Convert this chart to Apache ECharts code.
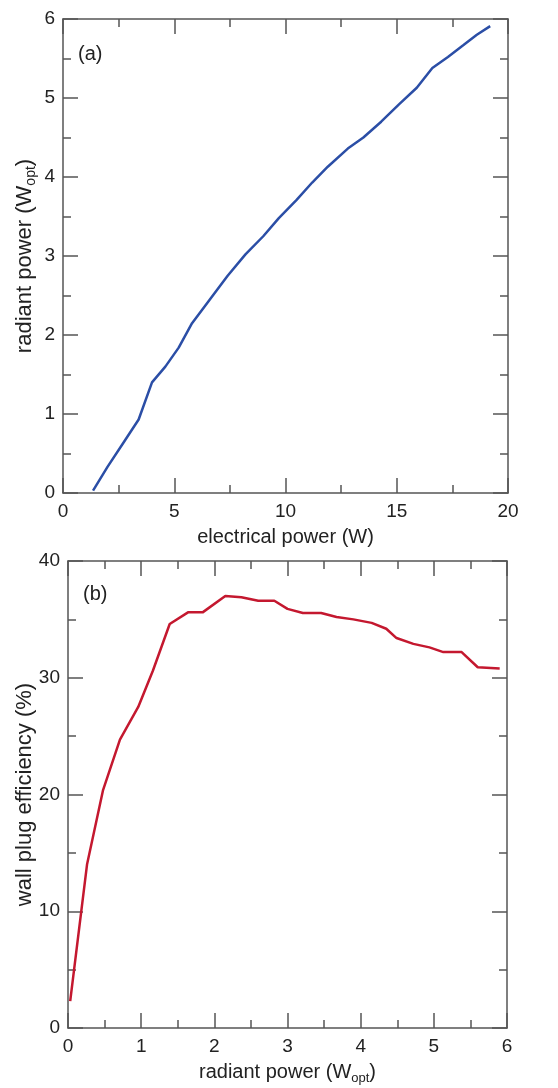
<!DOCTYPE html>
<html>
<head>
<meta charset="utf-8">
<script src="https://cdn.jsdelivr.net/npm/echarts@6/dist/echarts.min.js"></script>
<style>html,body{margin:0;padding:0;background:#fff;}#c{width:558px;height:1088px;}</style>
</head>
<body>
<div id="c"></div>
<script>
// Panel (a): electrical power (W) vs radiant power (W_opt)
var elecPower = [1.35, 2.0, 2.7, 3.4, 4.0, 4.6, 5.2, 5.8, 6.6, 7.4, 8.2, 9.0, 9.7, 10.5, 11.2, 11.9, 12.8, 13.5, 14.3, 15.1, 15.9, 16.6, 17.3, 18.0, 18.6, 19.2];
var radPowerA = [0.03, 0.33, 0.63, 0.93, 1.40, 1.60, 1.84, 2.15, 2.45, 2.75, 3.02, 3.25, 3.48, 3.71, 3.93, 4.13, 4.36, 4.50, 4.70, 4.92, 5.13, 5.38, 5.52, 5.67, 5.80, 5.91];
// Panel (b): radiant power (W_opt) vs wall plug efficiency (%)
var radPowerB = [0.03, 0.26, 0.48, 0.71, 0.96, 1.16, 1.39, 1.64, 1.84, 2.15, 2.37, 2.60, 2.82, 3.00, 3.21, 3.46, 3.67, 3.90, 4.15, 4.35, 4.49, 4.72, 4.94, 5.13, 5.38, 5.60, 5.90];
var wallPlug = [2.3, 14.0, 20.4, 24.7, 27.5, 30.6, 34.6, 35.6, 35.6, 37.0, 36.9, 36.6, 36.6, 35.9, 35.55, 35.55, 35.2, 35.0, 34.7, 34.2, 33.4, 32.9, 32.6, 32.2, 32.2, 30.9, 30.8];
var panelLabels = ['(a)', '(b)'];

function zip(a, b) { return a.map(function (v, i) { return [v, b[i]]; }); }

var FONT = '"Liberation Sans", Arial, sans-serif';
var AX = '#555';
var TXT = '#222';

function axis(opts) {
  var fs = opts.nameSize || 20;
  return {
    type: 'value',
    min: opts.min, max: opts.max, interval: opts.interval,
    gridIndex: opts.grid,
    position: opts.position,
    axisLine: { show: true, onZero: false, lineStyle: { color: AX, width: 1.5 } },
    axisTick: { show: true, inside: true, length: 15, lineStyle: { color: AX, width: 1.5 } },
    minorTick: { show: true, splitNumber: 2, length: 8, lineStyle: { color: AX, width: 1.5 } },
    splitLine: { show: false },
    axisLabel: { show: !!opts.labels, color: TXT, fontSize: 19, fontFamily: FONT, margin: opts.labelMargin || 8 },
    name: opts.name || '',
    nameLocation: 'middle',
    nameGap: opts.nameGap || 30,
    nameMoveOverlap: false,
    nameTextStyle: {
      color: TXT, fontSize: fs, fontFamily: FONT,
      rich: {
        a: { fontSize: fs, fontFamily: FONT, color: TXT },
        s: { fontSize: Math.round(fs * 0.65), fontFamily: FONT, color: TXT, padding: [Math.round(fs * 0.6), 0, 0, 0] }
      }
    }
  };
}

var chart = echarts.init(document.getElementById('c'), null, { renderer: 'canvas' });
chart.setOption({
  backgroundColor: '#fff',
  animation: false,
  grid: [
    { left: 63, top: 19, right: 50, height: 474, outerBoundsMode: 'none', containLabel: false },
    { left: 68, top: 561, right: 51, height: 467, outerBoundsMode: 'none', containLabel: false }
  ],
  xAxis: [
    axis({ grid: 0, min: 0, max: 20, interval: 5, position: 'bottom', labels: true, labelMargin: 9, name: 'electrical power (W)', nameGap: 34 }),
    axis({ grid: 0, min: 0, max: 20, interval: 5, position: 'top' }),
    axis({ grid: 1, min: 0, max: 6, interval: 1, position: 'bottom', labels: true, labelMargin: 9, name: '{a|radiant power (W}{s|opt}{a|)}', nameGap: 32 }),
    axis({ grid: 1, min: 0, max: 6, interval: 1, position: 'top' })
  ],
  yAxis: [
    axis({ grid: 0, min: 0, max: 6, interval: 1, position: 'left', labels: true, name: '{a|radiant power (W}{s|opt}{a|)}', nameGap: 25, nameSize: 22 }),
    axis({ grid: 0, min: 0, max: 6, interval: 1, position: 'right' }),
    axis({ grid: 1, min: 0, max: 40, interval: 10, position: 'left', labels: true, name: 'wall plug efficiency (%)', nameGap: 32, nameSize: 22 }),
    axis({ grid: 1, min: 0, max: 40, interval: 10, position: 'right' })
  ],
  graphic: [
    { type: 'text', left: 78, top: 44, style: { text: panelLabels[0], fontSize: 20, fontFamily: FONT, fill: TXT } },
    { type: 'text', left: 83, top: 584, style: { text: panelLabels[1], fontSize: 20, fontFamily: FONT, fill: TXT } }
  ],
  series: [
    { type: 'line', xAxisIndex: 0, yAxisIndex: 0, data: zip(elecPower, radPowerA), showSymbol: false, smooth: false,
      lineStyle: { color: '#2b4ea6', width: 2.5 } },
    { type: 'line', xAxisIndex: 2, yAxisIndex: 2, data: zip(radPowerB, wallPlug), showSymbol: false, smooth: false,
      lineStyle: { color: '#c4182f', width: 2.5 } }
  ]
});
</script>
</body>
</html>
